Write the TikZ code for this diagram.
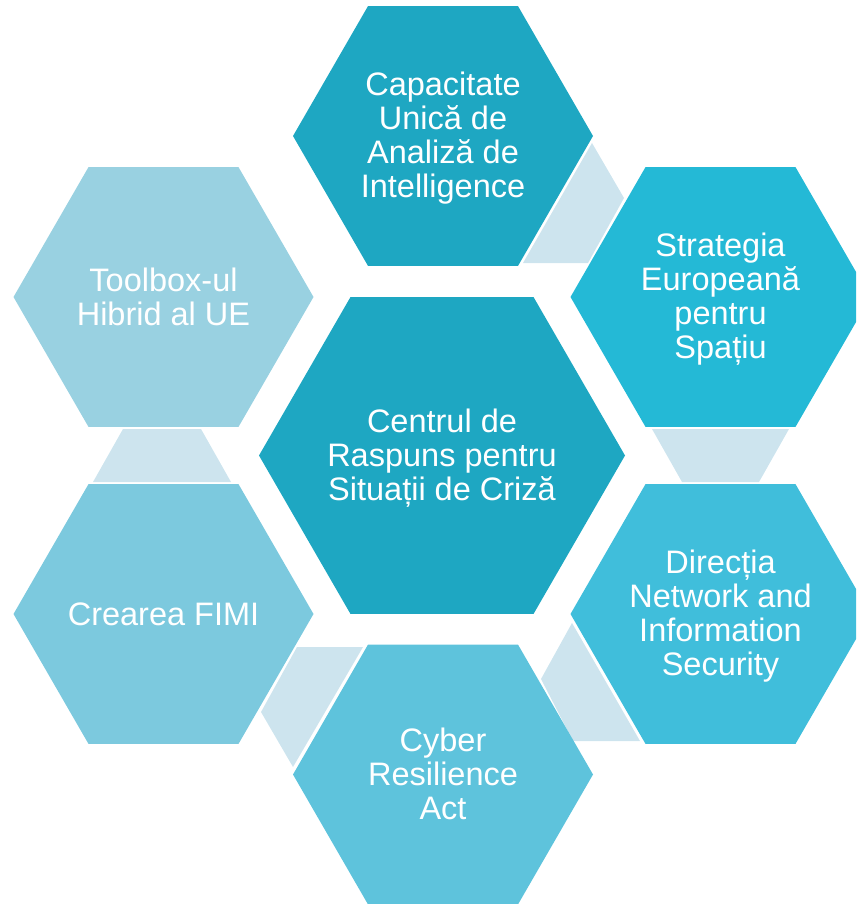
\documentclass[tikz,border=0pt]{standalone}
\usepackage{fontspec}
\setmainfont{Liberation Sans}
\usetikzlibrary{shapes.geometric}
\definecolor{hexA}{RGB}{30,167,194}
\definecolor{hexB}{RGB}{36,185,214}
\definecolor{hexC}{RGB}{64,190,219}
\definecolor{hexD}{RGB}{94,195,220}
\definecolor{hexE}{RGB}{124,201,222}
\definecolor{hexF}{RGB}{153,209,225}
\definecolor{connc}{RGB}{205,228,238}
\begin{document}
\begin{tikzpicture}[x=1pt,y=-1pt,
  hex/.style={regular polygon, regular polygon sides=6, minimum size=300pt,
    inner sep=0pt, outer sep=0pt},
  lbl/.style={text=white, align=center, inner sep=0pt,
    font=\fontsize{32.5}{34}\selectfont},
  conn/.style={fill=connc}]
\useasboundingbox (0,0) rectangle (856,904);
\clip (0,0) rectangle (856,904);
% connector pieces
\fill[conn] (592,143) -- (624,198) -- (588,263) -- (523,263) -- cycle;
\fill[conn] (652,429) -- (789,429) -- (759,482) -- (682,482) -- cycle;
\fill[conn] (572,623) -- (541,679) -- (573,741) -- (640,741) -- cycle;
\fill[conn] (297,647) -- (363,647) -- (293,767) -- (261,712) -- cycle;
\fill[conn] (123,429) -- (201,429) -- (231,482) -- (93,482) -- cycle;
% hexagons
\node[hex, fill=hexA, minimum size=366pt] (center) at (442,455.5) {};
\node[hex, fill=hexA] (top) at (443,136) {};
\node[hex, fill=hexB] (topright) at (720.5,297) {};
\node[hex, fill=hexC] (botright) at (720.5,614) {};
\node[hex, fill=hexD] (bottom) at (443,774.5) {};
\node[hex, fill=hexE] (botleft) at (163.5,614) {};
\node[hex, fill=hexF] (topleft) at (163.5,297) {};
% labels
\node[lbl, yshift=-2.5pt] (tcenter) at (center.center) {Centrul de\\Raspuns pentru\\Situații de Criză};
\node[lbl, yshift=-2pt] (ttop) at (top.center) {Capacitate\\Unică de\\Analiză de\\Intelligence};
\node[lbl, yshift=-2pt] (ttopright) at (topright.center) {Strategia\\Europeană\\pentru\\Spațiu};
\node[lbl, yshift=-2pt] (tbotright) at (botright.center) {Direcția\\Network and\\Information\\Security};
\node[lbl, yshift=1pt] (tbottom) at (bottom.center) {Cyber\\Resilience\\Act};
\node[lbl] (tbotleft) at (botleft.center) {Crearea FIMI};
\node[lbl, yshift=0.5pt] (ttopleft) at (topleft.center) {Toolbox-ul\\Hibrid al UE};
\end{tikzpicture}
\end{document}
